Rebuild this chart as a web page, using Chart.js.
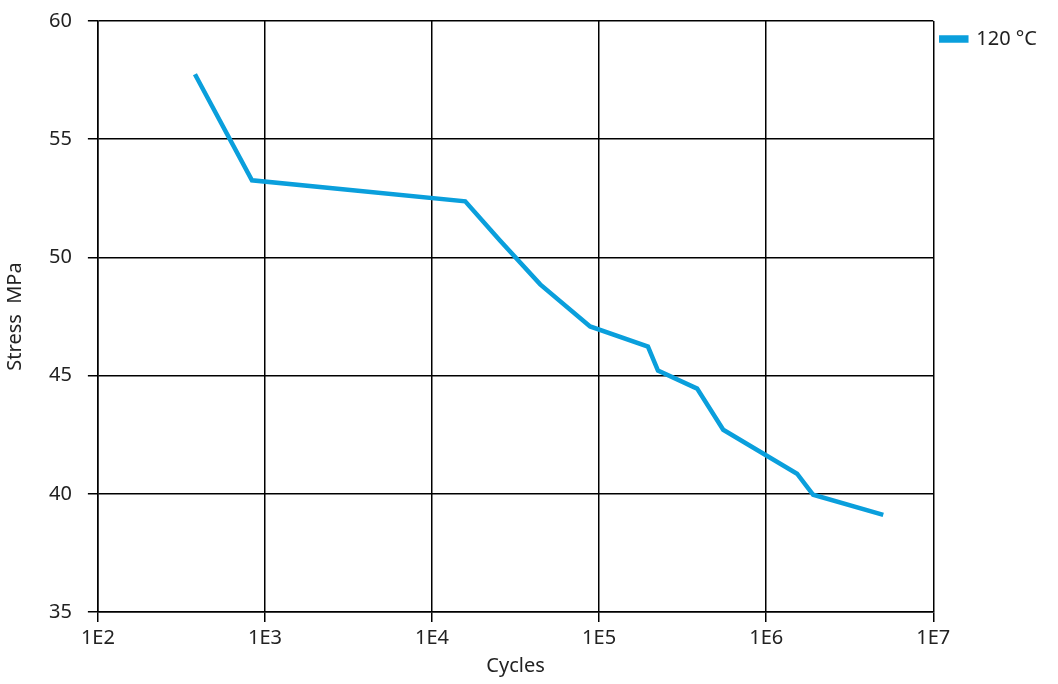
<!DOCTYPE html>
<html>
<head>
<meta charset="utf-8">
<script src="https://cdn.jsdelivr.net/npm/chart.js@4"></script>
<style>
  html, body { margin: 0; padding: 0; background: #fff; }
  #wrap { width: 1058px; height: 684px; }
</style>
</head>
<body>
<div id="wrap"><canvas id="snChart"></canvas></div>
<script>
// S-N curve at 120 °C
const seriesName = '120 °C';
const cycles = [381, 836, 15800, 25500, 44400, 88300, 196000, 225000, 386000, 553000, 1530000, 1910000, 5020000];
const stress = [57.75, 53.26, 52.37, 50.72, 48.86, 47.08, 46.23, 45.21, 44.45, 42.71, 40.85, 39.96, 39.11];
const xTicks = [1e2, 1e3, 1e4, 1e5, 1e6, 1e7];
const yTicks = [35, 40, 45, 50, 55, 60];

Chart.defaults.font.family = '"Noto Sans", "Open Sans", sans-serif';
Chart.defaults.font.size = 20;
Chart.defaults.color = '#222';

const ctx = document.getElementById('snChart').getContext('2d');
const chart = new Chart(ctx, {
    type: 'line',
    data: {
        datasets: [{
            label: seriesName,
            data: cycles.map((c, i) => ({x: c, y: stress[i]})),
            borderColor: '#0a9fdc',
            backgroundColor: '#0a9fdc',
            borderWidth: 4.5,
            pointRadius: 0,
            tension: 0,
            fill: false
        }]
    },
    options: {
        responsive: true,
        maintainAspectRatio: false,
        animation: false,
        layout: {
            padding: {top: 21, right: 11, bottom: 6, left: 3}
        },
        scales: {
            x: {
                type: 'logarithmic',
                min: 1e2,
                max: 1e7,
                afterBuildTicks: function(axis) {
                    axis.ticks = xTicks.map(v => ({value: v}));
                },
                ticks: {
                    color: '#222',
                    padding: 4,
                    maxRotation: 0,
                    callback: function(v) {
                        return '1E' + Math.round(Math.log10(v));
                    }
                },
                grid: {
                    color: '#000',
                    lineWidth: 1.5,
                    tickLength: 10
                },
                border: {color: '#000', width: 1.5},
                title: {
                    display: true,
                    text: 'Cycles',
                    color: '#222',
                    padding: {top: 0, bottom: 0}
                }
            },
            y: {
                min: 35,
                max: 60,
                afterBuildTicks: function(axis) {
                    axis.ticks = yTicks.map(v => ({value: v}));
                },
                afterFit: function(axis) {
                    axis.paddingTop = 0;
                },
                ticks: {
                    color: '#222',
                    padding: 16
                },
                grid: {
                    color: '#000',
                    lineWidth: 1.5,
                    tickLength: 10
                },
                border: {color: '#000', width: 1.5},
                title: {
                    display: true,
                    text: 'Stress  MPa',
                    color: '#222',
                    padding: {top: 0, bottom: 6}
                }
            }
        },
        plugins: {
            legend: {
                display: true,
                position: 'right',
                align: 'start',
                labels: {
                    boxWidth: 25,
                    boxHeight: 3,
                    padding: 8,
                    color: '#222'
                }
            },
            tooltip: {enabled: false}
        }
    }
});
</script>
</body>
</html>
